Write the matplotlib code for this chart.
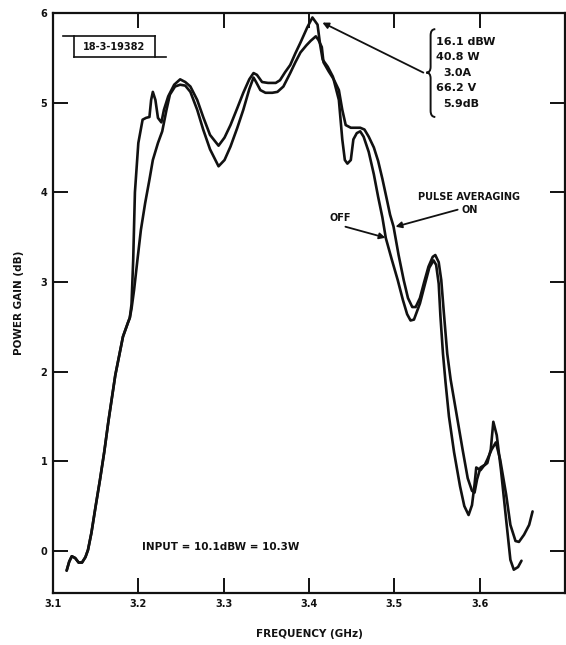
import matplotlib
matplotlib.use("Agg")
import matplotlib.pyplot as plt
from matplotlib.path import Path
from matplotlib.patches import PathPatch
from matplotlib.lines import Line2D

plt.rcParams['font.family'] = ['DejaVu Sans']
plt.rcParams['font.weight'] = 'bold'

# ---- data (frequency in GHz, gain in dB) ----
common_freq = [3.116, 3.119, 3.122, 3.126, 3.130, 3.134, 3.138, 3.141, 3.145, 3.150,
               3.155, 3.160, 3.165, 3.173, 3.182, 3.188, 3.190]
common_gain = [-0.22, -0.12, -0.06, -0.08, -0.13, -0.13, -0.07, 0.01, 0.20, 0.50,
               0.79, 1.10, 1.45, 1.96, 2.39, 2.55, 2.60]

off_freq = [3.192, 3.194, 3.196, 3.200, 3.205, 3.209, 3.213, 3.215, 3.217, 3.220,
            3.223, 3.227, 3.230, 3.235, 3.242, 3.249, 3.255, 3.261, 3.269, 3.276,
            3.284, 3.294, 3.301, 3.308, 3.316, 3.323, 3.330, 3.335, 3.339, 3.345,
            3.352, 3.361, 3.366, 3.372, 3.378, 3.384, 3.390, 3.398, 3.404, 3.410,
            3.413, 3.416, 3.422, 3.428, 3.435, 3.439, 3.442, 3.445, 3.449, 3.452,
            3.456, 3.460, 3.464, 3.470, 3.476, 3.481, 3.486, 3.490, 3.497, 3.504,
            3.510, 3.515, 3.519, 3.523, 3.530, 3.536, 3.541, 3.546, 3.549, 3.552,
            3.554, 3.557, 3.560, 3.564, 3.570, 3.577, 3.582, 3.587, 3.591, 3.594,
            3.596, 3.601, 3.605, 3.609, 3.613, 3.616, 3.620, 3.625, 3.631, 3.636,
            3.640, 3.645, 3.649]
off_gain = [2.75, 3.25, 4.00, 4.55, 4.81, 4.83, 4.84, 5.03, 5.12, 5.03,
            4.83, 4.78, 4.92, 5.07, 5.20, 5.26, 5.23, 5.18, 5.03, 4.84,
            4.64, 4.52, 4.61, 4.75, 4.94, 5.11, 5.26, 5.33, 5.31, 5.23,
            5.22, 5.22, 5.25, 5.34, 5.42, 5.55, 5.67, 5.84, 5.95, 5.87,
            5.65, 5.48, 5.40, 5.29, 5.03, 4.59, 4.36, 4.32, 4.36, 4.59,
            4.66, 4.68, 4.62, 4.45, 4.20, 3.95, 3.72, 3.49, 3.25, 3.02,
            2.80, 2.64, 2.57, 2.58, 2.76, 2.98, 3.16, 3.24, 3.19, 2.98,
            2.62, 2.20, 1.88, 1.50, 1.10, 0.72, 0.50, 0.40, 0.51, 0.74,
            0.93, 0.90, 0.95, 0.98, 1.13, 1.44, 1.29, 0.90, 0.35, -0.10,
            -0.21, -0.18, -0.11]

on_freq = [3.192, 3.195, 3.199, 3.203, 3.208, 3.213, 3.217, 3.223, 3.228, 3.233,
           3.237, 3.243, 3.249, 3.255, 3.261, 3.269, 3.276, 3.284, 3.294, 3.301,
           3.308, 3.316, 3.323, 3.330, 3.335, 3.338, 3.343, 3.349, 3.357, 3.363,
           3.370, 3.378, 3.384, 3.390, 3.397, 3.402, 3.408, 3.411, 3.415, 3.417,
           3.423, 3.429, 3.435, 3.439, 3.443, 3.449, 3.455, 3.460, 3.465, 3.470,
           3.476, 3.481, 3.486, 3.491, 3.495, 3.499, 3.505, 3.511, 3.516, 3.521,
           3.525, 3.530, 3.535, 3.540, 3.545, 3.548, 3.552, 3.555, 3.558, 3.562, 3.566,
           3.573, 3.580, 3.586, 3.591, 3.594, 3.597, 3.601, 3.606, 3.609, 3.614,
           3.619, 3.624, 3.631, 3.636, 3.642, 3.646, 3.652, 3.658, 3.662]
on_gain = [2.70, 2.91, 3.25, 3.58, 3.88, 4.14, 4.36, 4.55, 4.68, 4.92,
           5.09, 5.18, 5.20, 5.19, 5.12, 4.92, 4.70, 4.48, 4.29, 4.36,
           4.51, 4.72, 4.92, 5.15, 5.28, 5.23, 5.14, 5.11, 5.11, 5.12,
           5.18, 5.33, 5.45, 5.56, 5.64, 5.69, 5.74, 5.70, 5.62, 5.45,
           5.35, 5.26, 5.14, 4.92, 4.75, 4.72, 4.72, 4.72, 4.70, 4.62,
           4.50, 4.35, 4.15, 3.93, 3.75, 3.62, 3.30, 3.02, 2.82, 2.72,
           2.72, 2.82, 3.00, 3.17, 3.28, 3.30, 3.22, 3.02, 2.66, 2.20, 1.91,
           1.52, 1.13, 0.81, 0.67, 0.65, 0.80, 0.93, 0.96, 1.02, 1.13,
           1.21, 1.02, 0.63, 0.29, 0.11, 0.10, 0.18, 0.29, 0.44]

x_ticks = [3.1, 3.2, 3.3, 3.4, 3.5, 3.6]
x_ticklabels = ["3.1", "3.2", "3.3", "3.4", "3.5", "3.6"]
y_ticks = [0, 1, 2, 3, 4, 5, 6]
y_ticklabels = ["0", "1", "2", "3", "4", "5", "6"]

peak_lines = ["16.1 dBW", "40.8 W", "3.0A", "66.2 V", "5.9dB"]

# ---- figure ----
ink = "#111111"
fig = plt.figure(figsize=(5.66, 6.45), dpi=100)
ax = fig.add_axes([53 / 566, 52 / 645, 512 / 566, 580 / 645])
ax.set_xlim(3.1, 3.7)
ax.set_ylim(-0.47, 6.0)

for s in ax.spines.values():
    s.set_linewidth(1.6)
    s.set_color(ink)

ax.set_xticks(x_ticks)
ax.set_xticklabels(x_ticklabels)
ax.set_yticks(y_ticks)
ax.set_yticklabels(y_ticklabels)
ax.tick_params(direction='in', length=11, width=1.4, top=True, right=True,
               labelsize=7, colors=ink, pad=4)
for lab in ax.get_xticklabels() + ax.get_yticklabels():
    lab.set_fontweight('bold')

ax.set_xlabel("FREQUENCY (GHz)", fontsize=7.5, fontweight='bold', labelpad=15, color=ink)
ax.set_ylabel("POWER GAIN (dB)", fontsize=7.5, fontweight='bold', labelpad=12, color=ink)

off_x = common_freq + off_freq
off_y = common_gain + off_gain
on_x = common_freq + on_freq
on_y = common_gain + on_gain
ax.plot(off_x, off_y, color=ink, lw=1.9, solid_joinstyle='round', solid_capstyle='round')
ax.plot(on_x, on_y, color=ink, lw=1.9, solid_joinstyle='round', solid_capstyle='round')

# ---- id stamp ----
tr = ax.transAxes
ax.add_line(Line2D([0.020, 0.199], [0.960, 0.960], transform=tr, color=ink, lw=1.2))
ax.add_line(Line2D([0.041, 0.221], [0.924, 0.924], transform=tr, color=ink, lw=1.2))
ax.add_line(Line2D([0.041, 0.041], [0.924, 0.960], transform=tr, color=ink, lw=1.2))
ax.add_line(Line2D([0.199, 0.199], [0.924, 0.960], transform=tr, color=ink, lw=1.2))
ax.text(0.120, 0.942, "18-3-19382", transform=tr, fontsize=7, fontweight='bold',
        ha='center', va='center', color=ink)

# ---- peak annotation with brace ----
tx = [3.5484, 3.5484, 3.5577, 3.5484, 3.5577]
ty = [5.68, 5.51, 5.33, 5.16, 4.98]
for t, xx, yy in zip(peak_lines, tx, ty):
    ax.text(xx, yy, t, fontsize=8, fontweight='bold', ha='left', va='center', color=ink)

bx, btip, bend = 3.5425, 3.5375, 3.5480
verts = [(bend, 5.82), (bx, 5.82), (bx, 5.75),
         (bx, 5.40),
         (bx, 5.335), (btip, 5.335),
         (bx, 5.335), (bx, 5.27),
         (bx, 4.91),
         (bx, 4.84), (bend, 4.84)]
codes = [Path.MOVETO, Path.CURVE3, Path.CURVE3,
         Path.LINETO,
         Path.CURVE3, Path.CURVE3,
         Path.CURVE3, Path.CURVE3,
         Path.LINETO,
         Path.CURVE3, Path.CURVE3]
ax.add_patch(PathPatch(Path(verts, codes), fill=False, lw=1.4, color=ink))

arrow_kw = dict(arrowstyle='-|>', color=ink, lw=1.3, mutation_scale=9,
                shrinkA=0, shrinkB=0)
ax.annotate("", xy=(3.4157, 5.893), xytext=(3.5340, 5.335), arrowprops=arrow_kw)

# ---- curve labels ----
ax.text(3.588, 3.951, "PULSE AVERAGING", fontsize=7, fontweight='bold',
        ha='center', va='center', color=ink)
ax.text(3.588, 3.806, "ON", fontsize=7, fontweight='bold', ha='center', va='center', color=ink)
ax.annotate("", xy=(3.5014, 3.616), xytext=(3.5742, 3.806), arrowprops=arrow_kw)

ax.text(3.437, 3.717, "OFF", fontsize=7, fontweight='bold', ha='center', va='center', color=ink)
ax.annotate("", xy=(3.4897, 3.493), xytext=(3.4427, 3.616), arrowprops=arrow_kw)

ax.text(3.297, 0.045, "INPUT = 10.1dBW = 10.3W", fontsize=7.5, fontweight='bold',
        ha='center', va='center', color=ink)

fig.savefig("out.png", dpi=100, facecolor='white')
